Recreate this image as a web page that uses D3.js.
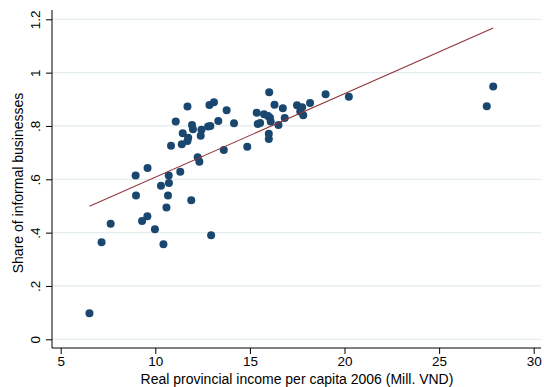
<!DOCTYPE html>
<html>
<head>
<meta charset="utf-8">
<script src="https://cdn.jsdelivr.net/npm/d3@7"></script>
<style>
  html, body { margin: 0; padding: 0; background: #ffffff; }
  svg { display: block; font-family: "Liberation Sans", Arial, sans-serif; }
</style>
</head>
<body>
<svg id="chart" width="544" height="387"></svg>
<script>
// Real provincial income per capita 2006 (Mill. VND), one value per province
const incomeX = [
  6.52, 7.16, 7.64, 8.96, 8.98, 9.30, 9.58, 9.59, 9.98, 10.43,
  10.30, 10.59, 10.67, 10.71, 10.72, 10.83, 11.08, 11.32, 11.40, 11.45,
  11.70, 11.70, 11.74, 11.94, 11.99, 11.90, 12.24, 12.33, 12.44, 12.40,
  12.79, 12.91, 12.86, 13.10, 12.95, 13.33, 13.62, 13.77, 14.16, 14.86,
  15.36, 15.41, 15.54, 15.75, 15.96, 16.06, 16.10, 16.02, 16.30, 16.74,
  16.51, 16.84, 16.00, 16.00, 17.49, 17.76, 17.66, 17.82, 18.18, 19.00,
  20.23, 27.52, 27.86
];
// Share of informal businesses, same province order
const informalY = [
  0.098, 0.364, 0.433, 0.614, 0.539, 0.444, 0.461, 0.642, 0.413, 0.356,
  0.576, 0.494, 0.539, 0.614, 0.586, 0.726, 0.817, 0.628, 0.731, 0.773,
  0.873, 0.744, 0.756, 0.804, 0.788, 0.521, 0.683, 0.666, 0.786, 0.763,
  0.798, 0.800, 0.879, 0.889, 0.390, 0.819, 0.710, 0.859, 0.810, 0.722,
  0.850, 0.807, 0.811, 0.844, 0.837, 0.831, 0.817, 0.926, 0.880, 0.866,
  0.804, 0.830, 0.771, 0.751, 0.878, 0.870, 0.854, 0.840, 0.886, 0.919,
  0.910, 0.874, 0.948
];
// Linear fit endpoints (min and max income)
const fitX = [6.52, 27.86];
const fitY = [0.499, 1.167];

const xTicks = [5, 10, 15, 20, 25, 30];
const yTicks = [0, 0.2, 0.4, 0.6, 0.8, 1, 1.2];
const yTickLabels = ["0", ".2", ".4", ".6", ".8", "1", "1.2"];

const svg = d3.select("#chart");
const plot = { left: 52, right: 541, top: 10, bottom: 348 };

const x = d3.scaleLinear().domain([5, 30]).range([60.7, 533.7]);
const y = d3.scaleLinear().domain([0, 1.2]).range([339.3, 19.3]);

// horizontal grid lines
svg.append("g")
  .selectAll("line")
  .data(yTicks)
  .join("line")
  .attr("x1", plot.left)
  .attr("x2", plot.right)
  .attr("y1", d => y(d))
  .attr("y2", d => y(d))
  .attr("stroke", "#e3ecef")
  .attr("stroke-width", 1.2);

// y axis
const yAxis = svg.append("g")
  .attr("transform", `translate(${plot.left},0)`)
  .call(d3.axisLeft(y).tickValues(yTicks).tickSize(6)
    .tickFormat((d, i) => yTickLabels[i]));
yAxis.select(".domain").attr("d", `M0,${plot.top}V${plot.bottom}`).attr("stroke", "#000");
yAxis.selectAll(".tick line").attr("stroke", "#000");
yAxis.selectAll(".tick text")
  .attr("font-size", 13.5)
  .attr("fill", "#000")
  .attr("x", 0).attr("dy", 0)
  .attr("text-anchor", "middle")
  .attr("transform", "translate(-12,0) rotate(-90)");

// x axis
const xAxis = svg.append("g")
  .attr("transform", `translate(0,${plot.bottom})`)
  .call(d3.axisBottom(x).tickValues(xTicks).tickSize(6).tickFormat(d3.format("d")));
xAxis.select(".domain").attr("d", `M${plot.left},0H${plot.right}`).attr("stroke", "#000");
xAxis.selectAll(".tick line").attr("stroke", "#000");
xAxis.selectAll(".tick text")
  .attr("font-size", 13.5)
  .attr("fill", "#000")
  .attr("y", 8);

// axis titles
svg.append("text")
  .attr("x", 297).attr("y", 384)
  .attr("text-anchor", "middle")
  .attr("font-size", 14)
  .text("Real provincial income per capita 2006 (Mill. VND)");

svg.append("text")
  .attr("transform", "translate(23,183) rotate(-90)")
  .attr("text-anchor", "middle")
  .attr("font-size", 14)
  .text("Share of informal businesses");

// scatter points
svg.append("g")
  .selectAll("circle")
  .data(incomeX.map((v, i) => [v, informalY[i]]))
  .join("circle")
  .attr("cx", d => x(d[0]))
  .attr("cy", d => y(d[1]))
  .attr("r", 4)
  .attr("fill", "#1a476f");

// fitted line
svg.append("path")
  .datum(fitX.map((v, i) => [v, fitY[i]]))
  .attr("d", d3.line().x(d => x(d[0])).y(d => y(d[1])))
  .attr("fill", "none")
  .attr("stroke", "#90353b")
  .attr("stroke-width", 1.1);
</script>
</body>
</html>
